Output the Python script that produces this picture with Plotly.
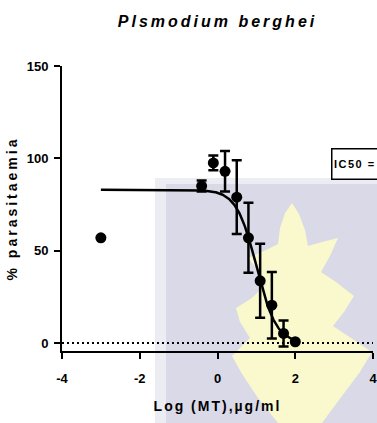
import numpy as np
import plotly.graph_objects as go

# ---- data -------------------------------------------------------------
log_dose = [-3.0, -0.408, -0.107, 0.194, 0.495, 0.796, 1.097, 1.398, 1.699, 2.0]
parasitaemia = [57.0, 85.0, 97.5, 93.0, 79.0, 57.0, 33.7, 20.5, 5.2, 0.7]
sem = [0.0, 3.0, 4.0, 11.0, 20.0, 19.0, 20.0, 18.0, 7.0, 0.0]

# four-parameter logistic (variable slope) fit
fit_top = 83.0
fit_bottom = 0.0
fit_log_ic50 = 1.0
fit_hill = 1.7
fit_from, fit_to = -3.0, 2.0

baseline = 0.0

x_tick_vals = [-4, -2, 0, 2, 4]
x_tick_text = ["-4", "-2", "0", "2", "4"]
y_tick_vals = [0, 50, 100, 150]
y_tick_text = ["0", "50", "100", "150"]

chart_title = "Plsmodium berghei"
x_title = "Log (MT),µg/ml"
y_title = "% parasitaemia"
ic50_label = "IC50 ="

# ---- geometry / style -------------------------------------------------
W, H = 377, 423
ML, MR, MT, MB = 62, 4, 66, 72
FONT = "Liberation Sans Narrow, Arial Narrow, Liberation Sans, Arial, sans-serif"


def spaced(text, px):
    return f'<span style="letter-spacing:{px}px">{text}</span>'


def to_paper(px, py):
    return (px - ML) / (W - ML - MR), (H - MB - py) / (H - MT - MB)


def poly_path(points):
    pts = [to_paper(x, y) for x, y in points]
    return "M " + " L ".join(f"{x:.4f},{y:.4f}" for x, y in pts) + " Z"


def rect(x0, y0, x1, y1, color):
    a = to_paper(x0, y0)
    b = to_paper(x1, y1)
    return dict(type="rect", xref="paper", yref="paper", x0=a[0], y0=a[1],
                x1=b[0], y1=b[1], fillcolor=color, line_width=0, layer="below")


# fitted curve
xs = np.linspace(fit_from, fit_to, 400)
ys = fit_bottom + (fit_top - fit_bottom) / (1 + 10 ** ((xs - fit_log_ic50) * fit_hill))

fig = go.Figure()
fig.add_trace(go.Scatter(x=xs, y=ys, mode="lines",
                         line=dict(color="black", width=2.5),
                         hoverinfo="skip", showlegend=False))
fig.add_trace(go.Scatter(x=log_dose, y=parasitaemia, mode="markers",
                         marker=dict(symbol="circle", size=11, color="black"),
                         error_y=dict(type="data", array=sem, visible=True,
                                      color="black", thickness=2.5, width=5),
                         showlegend=False))

# background emblem (pale panel with a flame-like leaf)
emblem = [(292, 203), (299, 214), (305, 230), (308, 246), (322, 242), (338, 238),
          (330, 256), (321, 272), (336, 282), (354, 296), (344, 312), (333, 326),
          (348, 336), (372, 352), (360, 372), (342, 396), (322, 423), (278, 423),
          (258, 398), (242, 374), (232, 356), (250, 338), (240, 322), (236, 308),
          (252, 298), (266, 284), (258, 270), (248, 258), (266, 250), (278, 244),
          (280, 228), (285, 213)]
shapes = [
    rect(155, 178, 400, 440, "#ececf3"),
    rect(166, 184, 400, 440, "#d9d9e7"),
    dict(type="path", xref="paper", yref="paper", path=poly_path(emblem),
         fillcolor="#faf8cd", line_width=0, layer="below"),
    dict(type="line", xref="x", yref="y", x0=-4, x1=4, y0=baseline, y1=baseline,
         line=dict(color="black", width=2, dash="2px,3px"), layer="below"),
]

axis_common = dict(showline=True, linecolor="black", linewidth=2,
                   ticks="outside", tickcolor="black", tickwidth=2, ticklen=6,
                   showgrid=False, zeroline=False, ticklabeloverflow="allow",
                   tickfont=dict(family=FONT, size=13, color="black", weight="bold"))

fig.update_layout(
    width=W, height=H,
    margin=dict(l=ML, r=MR, t=MT, b=MB, autoexpand=False),
    paper_bgcolor="white", plot_bgcolor="rgba(0,0,0,0)",
    title=dict(text=spaced(chart_title, 3), x=0.5, xref="paper", xanchor="center",
               y=1 - 21 / H, yref="container", yanchor="middle",
               font=dict(family=FONT, size=16, color="black", weight="bold",
                         style="italic")),
    xaxis=dict(range=[-4, 4], tickvals=x_tick_vals, ticktext=x_tick_text,
               ticklabelstandoff=8,
               title=dict(text=spaced(x_title, 2), standoff=17,
                          font=dict(family=FONT, size=14, color="black", weight="bold")),
               **axis_common),
    yaxis=dict(range=[-4.3, 150], tickvals=y_tick_vals, ticktext=y_tick_text,
               ticklabelstandoff=3,
               title=dict(text=spaced(y_title, 3), standoff=6,
                          font=dict(family=FONT, size=14, color="black", weight="bold")),
               **axis_common),
    shapes=shapes,
    annotations=[dict(text=spaced(ic50_label, 1.5), xref="paper", yref="paper",
                      x=to_paper(331, 148)[0], y=to_paper(331, 148)[1],
                      xanchor="left", yanchor="top", align="left", valign="middle",
                      width=84, height=26, showarrow=False,
                      bgcolor="white", bordercolor="black", borderwidth=1.5,
                      borderpad=1.5,
                      font=dict(family=FONT, size=11, color="black", weight="bold"))],
)

fig.write_html("out.html")
